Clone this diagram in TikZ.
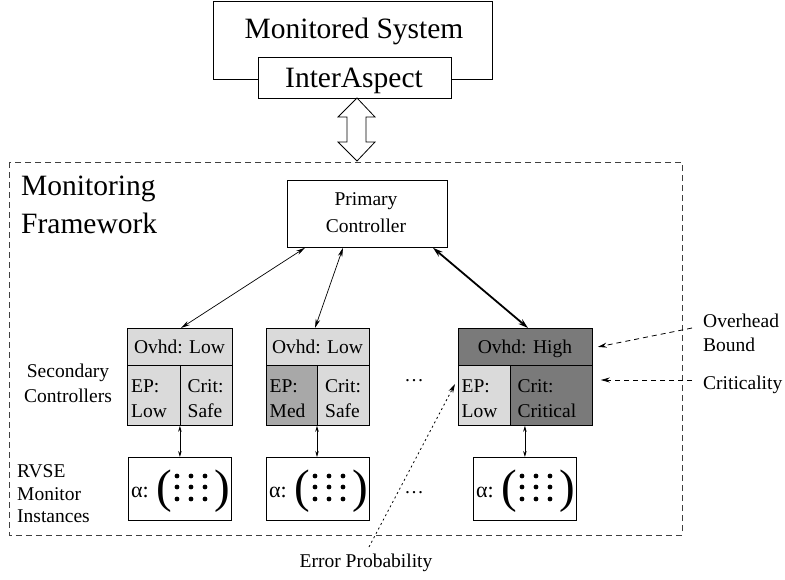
\documentclass[tikz,border=0pt]{standalone}
\usepackage{fontspec}
\setmainfont{Liberation Serif}
\usetikzlibrary{arrows.meta}
\definecolor{lg}{gray}{0.855}
\definecolor{mg}{gray}{0.66}
\definecolor{dg}{gray}{0.48}
\newcommand\monbox[3]{%
  \begin{scope}[shift={(#2,#3)}]
    \node[box, minimum width=103pt, minimum height=63pt] (#1) at (0,0) {};
    \node[alab, anchor=base west] (#1a) at (3,40) {α:};
    \node[paren, anchor=base west] (#1l) at (28,45) {(};
    \node[paren, anchor=base west] (#1r) at (86,45) {)};
    \foreach \i in {49,63,77}{\foreach \j in {19,30,42}{\fill (\i,\j) circle (2.4pt);}}
  \end{scope}}
\begin{document}
\begin{tikzpicture}[x=1pt,y=-1pt,
  box/.style={draw, line width=0.8pt, inner sep=0, anchor=north west},
  big/.style={font=\fontsize{29.5}{38}\selectfont, inner sep=0},
  lab/.style={font=\fontsize{19.5}{25}\selectfont, inner sep=0},
  alab/.style={font=\fontsize{22}{25}\selectfont, inner sep=0},
  paren/.style={font=\fontsize{47}{50}\selectfont, inner sep=0},
  conn/.style={line width=0.7pt, {Stealth[length=9pt,width=4.5pt]}-{Stealth[length=9pt,width=4.5pt]}},
  thickconn/.style={line width=1.8pt, {Stealth[length=10pt,width=6pt]}-{Stealth[length=10pt,width=6pt]}},
  vconn/.style={line width=0.7pt, {Stealth[length=6pt,width=3.5pt]}-{Stealth[length=6pt,width=3.5pt]}},
  dashconn/.style={line width=0.8pt, dash pattern=on 5pt off 4pt, -{Stealth[length=9pt,width=5pt]}},
  dotconn/.style={line width=0.8pt, dash pattern=on 2pt off 3pt, -{Stealth[length=9pt,width=5pt]}}]
\useasboundingbox (0,0) rectangle (785,579);

% monitored system
\node[box, minimum width=279pt, minimum height=78pt] (ms) at (213,1) {};
\node[big, anchor=base] (mst) at (354,38) {Monitored System};
\node[box, fill=white, minimum width=193pt, minimum height=41pt] (ia) at (258,57) {};
\node[big, anchor=base] (iat) at (354,87) {InterAspect};

% double arrow
\draw[line width=0.8pt, fill=white] (357,98) -- (375,117) -- (366,117) -- (366,142) -- (375,142) -- (357,161) -- (338,142) -- (347,142) -- (347,117) -- (338,117) -- cycle;

% frame
\draw[line width=0.8pt, black!75, dash pattern=on 6pt off 4pt] (9,162) rectangle (682,535);
\node[big, anchor=base west] (mf1) at (21,195) {Monitoring};
\node[big, anchor=base west] (mf2) at (21,233) {Framework};

% primary controller
\node[box, minimum width=160pt, minimum height=67pt] (pc) at (287,180) {};
\node[lab, anchor=base] (pct1) at (366,205) {Primary};
\node[lab, anchor=base] (pct2) at (366,232) {Controller};

% secondary controllers
\node[box, fill=lg, minimum width=105pt, minimum height=37pt] (s1top) at (127,328) {};
\node[box, fill=lg, minimum width=53pt, minimum height=60pt] (s1ep) at (127,365) {};
\node[box, fill=lg, minimum width=52pt, minimum height=60pt] (s1cr) at (180,365) {};
\node[box, fill=lg, minimum width=103pt, minimum height=37pt] (s2top) at (266,328) {};
\node[box, fill=mg, minimum width=51pt, minimum height=60pt] (s2ep) at (266,365) {};
\node[box, fill=lg, minimum width=52pt, minimum height=60pt] (s2cr) at (317,365) {};
\node[box, fill=dg, minimum width=134pt, minimum height=37pt] (s3top) at (458,328) {};
\node[box, fill=lg, minimum width=52pt, minimum height=60pt] (s3ep) at (458,365) {};
\node[box, fill=dg, minimum width=82pt, minimum height=60pt] (s3cr) at (510,365) {};

\node[lab, anchor=base] (s1o) at (179.5,353) {Ovhd: Low};
\node[lab, anchor=base] (s2o) at (317.5,353) {Ovhd: Low};
\node[lab, anchor=base] (s3o) at (525,353) {Ovhd: High};
\node[lab, anchor=base west] (s1e1) at (131,392) {EP:};
\node[lab, anchor=base west] (s1e2) at (131,417) {Low};
\node[lab, anchor=base west] (s1c1) at (187.5,392) {Crit:};
\node[lab, anchor=base west] (s1c2) at (187.5,417) {Safe};
\node[lab, anchor=base west] (s2e1) at (269.5,392) {EP:};
\node[lab, anchor=base west] (s2e2) at (269.5,417) {Med};
\node[lab, anchor=base west] (s2c1) at (325,392) {Crit:};
\node[lab, anchor=base west] (s2c2) at (325,417) {Safe};
\node[lab, anchor=base west] (s3e1) at (461.5,392) {EP:};
\node[lab, anchor=base west] (s3e2) at (461.5,417) {Low};
\node[lab, anchor=base west] (s3c1) at (517.5,392) {Crit:};
\node[lab, anchor=base west] (s3c2) at (517.5,417) {Critical};

% monitors
\monbox{m1}{128}{457}
\monbox{m2}{266}{457}
\monbox{m3}{473}{457}

% ellipses
\node[lab, anchor=base] (el1) at (414,381) {…};
\node[lab, anchor=base] (el2) at (414,493) {…};

% left labels
\node[lab, anchor=base] (sc1) at (68,377) {Secondary};
\node[lab, anchor=base] (sc2) at (68,402) {Controllers};
\node[lab, anchor=base west] (rv1) at (17,477) {RVSE};
\node[lab, anchor=base west] (rv2) at (17,500) {Monitor};
\node[lab, anchor=base west] (rv3) at (17,522) {Instances};

% right labels
\node[lab, anchor=base west] (ov1) at (703,327) {Overhead};
\node[lab, anchor=base west] (ov2) at (703,351) {Bound};
\node[lab, anchor=base west] (crl) at (703,389) {Criticality};
\node[lab, anchor=base] (epl) at (366,567) {Error Probability};

% connectors
\draw[conn] ([xshift=18pt]pc.south west) -- ([xshift=54pt]s1top.north west);
\draw[conn] ([xshift=56pt]pc.south west) -- ([xshift=49pt]s2top.north west);
\draw[thickconn] ([xshift=146pt]pc.south west) -- ([xshift=70pt]s3top.north west);
\draw[vconn] (m1.north |- s1cr.south) -- (m1.north);
\draw[vconn] (s2cr.south west) -- (s2cr.south west |- m2.north);
\draw[vconn] (m3.north |- s3cr.south) -- (m3.north);

\coordinate (ovs) at (692,328);
\coordinate (crs) at (692,380);
\coordinate (eps) at (369,547);
\draw[dashconn] (ovs) -- ([xshift=5pt]s3top.east);
\draw[dashconn] (crs) -- ([shift={(8pt,-15pt)}]s3cr.north east);
\draw[dotconn] (eps) -- ([shift={(-3pt,-19pt)}]s3ep.north west);
\end{tikzpicture}
\end{document}
